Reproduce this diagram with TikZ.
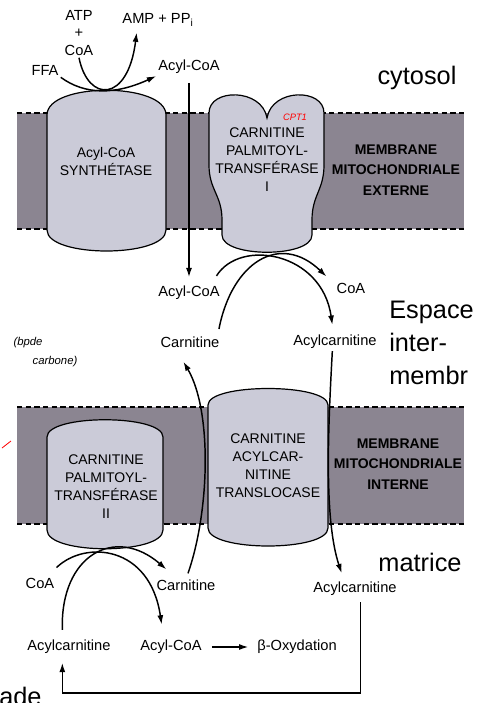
\documentclass[tikz,border=0pt]{standalone}
\usepackage{fontspec}
\setmainfont{Liberation Sans}
\usetikzlibrary{arrows.meta}
\definecolor{membrane}{RGB}{139,133,145}
\definecolor{protein}{RGB}{203,203,216}

\begin{document}
\begin{tikzpicture}[
  x=0.75pt, y=-0.75pt,
  lbl/.style={inner sep=1.5pt, font=\fontsize{11}{13}\selectfont},
  zone/.style={inner sep=0pt, align=left, font=\fontsize{19}{25}\selectfont},
  enzlbl/.style={align=center, inner sep=0pt, font=\fontsize{10.5}{13.5}\selectfont},
  memlbl/.style={align=center, inner sep=0pt, font=\bfseries\fontsize{10.5}{15.4}\selectfont},
  band/.style={fill=membrane},
  rim/.style={dash pattern=on 4pt off 2.5pt, line width=0.8pt},
  enzyme/.style={fill=protein, draw=black, line width=0.9pt},
  flow/.style={-{Latex[length=7pt,width=4.5pt]}, line width=1.1pt},
  note/.style={red, font=\itshape\fontsize{7}{8}\selectfont},
  scrawl/.style={inner sep=0pt, font=\itshape\fontsize{8.5}{10}\selectfont}
]
\useasboundingbox (0,0) rectangle (493,703);

% membranes
\fill[band] (17,113) rectangle (464,229);
\fill[band] (17,407) rectangle (464,524);
\foreach \y in {113,229,407,524}
  \draw[rim] (17,\y) -- (464,\y);

% enzymes
\draw[enzyme] (47,115) .. controls (47,82) and (166,82) .. (166,115) -- (166,230)
  .. controls (166,258) and (47,258) .. (47,230) -- cycle;
\draw[enzyme] (209,113) .. controls (209,88) and (262,88) .. (267,118)
  .. controls (272,88) and (324,88) .. (324,113) -- (324,165)
  .. controls (324,190) and (312,195) .. (312,220) -- (312,235)
  .. controls (312,258) and (222,258) .. (222,235) -- (222,220)
  .. controls (222,195) and (209,190) .. (209,165) -- cycle;
\draw[enzyme] (208,405) .. controls (208,383) and (328,383) .. (328,405) -- (328,528)
  .. controls (328,552) and (208,552) .. (208,528) -- cycle;
\draw[enzyme] (47,437) .. controls (47,414) and (163,414) .. (163,437) -- (163,530)
  .. controls (163,555) and (47,555) .. (47,530) -- cycle;

\node[enzlbl] (acs) at (106,161) {Acyl-CoA\\SYNTHÉTASE};
\node[enzlbl] (cpt1) at (267,160) {CARNITINE\\PALMITOYL-\\TRANSFÉRASE\\I};
\node[enzlbl] (cpt2) at (106,487) {CARNITINE\\PALMITOYL-\\TRANSFÉRASE\\II};
\node[enzlbl] (cact) at (268,466) {CARNITINE\\ACYLCAR-\\NITINE\\TRANSLOCASE};
\node[memlbl] (mme) at (396,170) {MEMBRANE\\MITOCHONDRIALE\\EXTERNE};
\node[memlbl] (mmi) at (398,464) {MEMBRANE\\MITOCHONDRIALE\\INTERNE};

% compartments
\node[zone] (cytosol) at (417,78) {cytosol};
\node[zone, anchor=west] (espace) at (389,343) {Espace\\inter-\\membr};
\node[zone] (matrice) at (420,562) {matrice};
\node[zone, anchor=base west] (cut) at (-1,705) {ade};

% metabolites
\node[lbl] (ffa) at (45,70) {FFA};
\node[lbl, align=center] (atp) at (79,33) {ATP\\+\\CoA};
\node[lbl] (amp) at (158,20) {AMP + PP\textsubscript{i}};
\node[lbl] (acyl1) at (189,67) {Acyl-CoA};
\node[lbl] (acyl2) at (189,293) {Acyl-CoA};
\node[lbl] (coa1) at (351,288) {CoA};
\node[lbl] (carn1) at (190,342) {Carnitine};
\node[lbl] (acylc1) at (335,342) {Acylcarnitine};
\node[lbl] (coa2) at (40,583) {CoA};
\node[lbl] (carn2) at (186,585) {Carnitine};
\node[lbl] (acylc2) at (355,589) {Acylcarnitine};
\node[lbl] (acylc3) at (69,647) {Acylcarnitine};
\node[lbl] (acyl3) at (171,647) {Acyl-CoA};
\node[lbl] (beta) at (297,647) {β-Oxydation};

% handwritten notes
\node[note] (cpt1note) at (295,117) {CPT1};
\node[scrawl] (hand1) at (28,343) {(bpde};
\node[scrawl] (hand2) at (55,362) {carbone)};
\draw[red, line width=0.6pt] (2,448) -- (11,441);

% reactions
\draw[flow] (ffa.south east) .. controls (85,95) and (115,95) .. (acyl1.south west);
\draw[flow] (atp.south) .. controls (88,103) and (128,103) .. ([xshift=-16pt,yshift=-3pt]amp.south);
\draw[flow, shorten <=5pt, shorten >=5pt] (acyl1) -- (acyl2);
\draw[flow] ([xshift=-4pt,yshift=6pt]acyl2.north east) .. controls (240,238) and (322,252) .. ([xshift=-2pt,yshift=6pt]acylc1.north);
\draw[flow] ([xshift=-2pt,yshift=4pt]carn1.north east) .. controls (232,262) and (280,232) .. ([xshift=-6pt,yshift=3pt]coa1.north west);
\draw[flow] ([xshift=-2pt]acylc1.south) .. controls (328,430) and (324,520) .. ([xshift=-10pt,yshift=5pt]acylc2.north);
\draw[flow] ([xshift=1.5pt,yshift=3pt]carn2.north) .. controls (210,510) and (212,410) .. ([xshift=-5pt,yshift=-9pt]carn1.south);
\draw[flow] ([xshift=-5pt,yshift=6pt]acylc3.north) .. controls (60,555) and (115,525) .. ([xshift=9pt,yshift=6pt]carn2.north west);
\draw[flow] ([yshift=6pt]coa2.north east) .. controls (85,540) and (150,545) .. ([xshift=-7pt,yshift=10pt]acyl3.north);
\draw[flow] ([xshift=6pt]acyl3.east) -- ([xshift=-5pt]beta.west);
\draw[flow] ([xshift=4pt,yshift=-3pt]acylc2.south) -- ++(0,91) -| ([xshift=-5pt,yshift=-5pt]acylc3.south);
\end{tikzpicture}
\end{document}
